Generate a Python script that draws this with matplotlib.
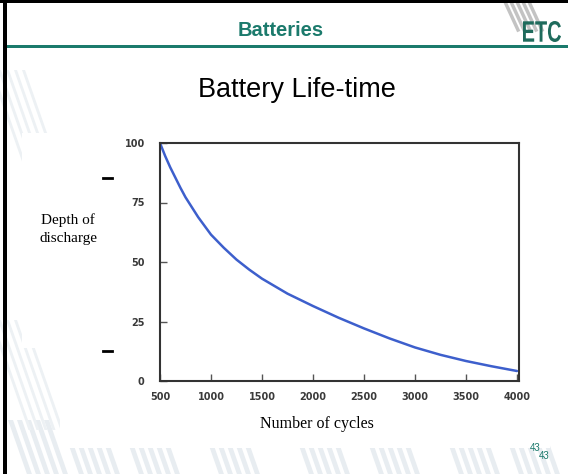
import matplotlib.pyplot as plt
from matplotlib.patches import Polygon, Rectangle, PathPatch
from matplotlib.textpath import TextPath
from matplotlib.font_manager import FontProperties
from matplotlib.transforms import Affine2D

# data
cycles = [500, 550, 600, 700, 750, 875, 1000, 1125, 1250, 1375, 1500, 1750,
          2000, 2250, 2500, 2750, 3000, 3250, 3500, 3750, 4000]
depth = [100, 94.6, 89.8, 81.2, 77.2, 68.8, 61.5, 56, 51, 46.8, 43, 36.7,
         31.5, 26.6, 22.1, 17.9, 14.1, 11, 8.4, 6.2, 4.2]
xticks = [500, 1000, 1500, 2000, 2500, 3000, 3500, 4000]
yticks = [0, 25, 50, 75, 100]

W, H = 568, 474
teal = "#1b7a6c"

fig = plt.figure(figsize=(W / 100, H / 100), dpi=100)
fig.patch.set_facecolor("white")


def fx(px):
    return px / W


def fy(py):
    return 1 - py / H


def stripe(x0, y_top, y_bot, w=5, col="#e8edf1"):
    lean = (y_bot - y_top) * 0.35
    fig.patches.append(Polygon(
        [(fx(x0), fy(y_top)), (fx(x0 + w), fy(y_top)),
         (fx(x0 + w + lean), fy(y_bot)), (fx(x0 + lean), fy(y_bot))],
        closed=True, transform=fig.transFigure, color=col, lw=0, zorder=-3))


# faint watermark stripes
for start in [8, 60, 120, 200, 290, 360, 440, 500]:
    for k in range(5):
        stripe(start + k * 9, 420, 474)
for start in [70, 320]:
    for k in range(5):
        stripe(-10 + k * 8, start, start + 110, w=3, col="#edf1f4")

# white areas of the pasted picture
fig.patches.append(Rectangle((fx(60), fy(448)), fx(490), fy(105) - fy(448),
                             transform=fig.transFigure, color="white", lw=0, zorder=-2))
fig.patches.append(Rectangle((fx(22), fy(348)), fx(95), fy(133) - fy(348),
                             transform=fig.transFigure, color="white", lw=0, zorder=-2))

# slide border
fig.patches.append(Rectangle((0, fy(3)), 1, fy(0) - fy(3), transform=fig.transFigure,
                             color="black", lw=0, zorder=2))
fig.patches.append(Rectangle((fx(3), 0), fx(4), 1, transform=fig.transFigure,
                             color="black", lw=0, zorder=2))
# header rule
fig.patches.append(Rectangle((fx(7), fy(48)), 1, fy(45) - fy(48), transform=fig.transFigure,
                             color=teal, lw=0, zorder=2))

fig.text(fx(281), fy(30), "Batteries", ha="center", va="center",
         fontsize=14.5, fontweight="bold", color=teal, family="Liberation Sans")

# ETC logo: grey streaks behind a condensed bold wordmark
for i in range(5):
    x0 = 506 + i * 6
    fig.add_artist(plt.Line2D([fx(x0), fx(x0 + 12)], [fy(4), fy(30)],
                              transform=fig.transFigure, color="#b5b5b5",
                              lw=2.5, alpha=0.8, zorder=1))
tp = TextPath((0, 0), "ETC", size=30,
              prop=FontProperties(family="Liberation Sans", weight="bold"))
ext = tp.get_extents()
logo_tr = (Affine2D().translate(-ext.x0, -ext.y0)
           .scale(38 / ext.width, 21 / ext.height)
           .translate(523, H - 42))
fig.add_artist(PathPatch(tp, transform=logo_tr, color="#1f6b5c", lw=0, zorder=3))

fig.text(fx(297), fy(90), "Battery Life-time", ha="center", va="center",
         fontsize=19.5, color="black", family="Liberation Sans")

ax = fig.add_axes([fx(160), fy(381), fx(519) - fx(160), fy(143) - fy(381)])
ax.plot(cycles, depth, color="#3d5fcc", lw=1.8, solid_joinstyle="round",
        solid_capstyle="round")
ax.set_xlim(500, 4020)
ax.set_ylim(0, 100)
ax.set_xticks(xticks)
ax.set_yticks(yticks)
ax.tick_params(direction="in", length=5, width=1, color="#555555",
               labelsize=7, labelcolor="#3a3a3a")
ax.tick_params(axis="y", pad=11)
ax.tick_params(axis="x", pad=8)
for lab in ax.get_xticklabels() + ax.get_yticklabels():
    lab.set_fontweight("bold")
for s in ax.spines.values():
    s.set_color("#333333")
    s.set_linewidth(1.5)

fig.text(fx(68), fy(229), "Depth of\ndischarge", ha="center", va="center",
         fontsize=11, family="Liberation Serif", linespacing=1.5, zorder=3)
# remnants of the original rotated label
for yy in [178, 351]:
    fig.add_artist(plt.Line2D([fx(103), fx(112)], [fy(yy), fy(yy)],
                              transform=fig.transFigure, color="black", lw=2, zorder=3))

fig.text(fx(317), fy(424), "Number of cycles", ha="center", va="center",
         fontsize=11.5, family="Liberation Serif")

fig.text(fx(535), fy(448), "43", ha="center", va="center", fontsize=7,
         color=teal, family="Liberation Sans")
fig.text(fx(544), fy(456), "43", ha="center", va="center", fontsize=7,
         color=teal, family="Liberation Sans")

fig.savefig("out.png", dpi=100)
